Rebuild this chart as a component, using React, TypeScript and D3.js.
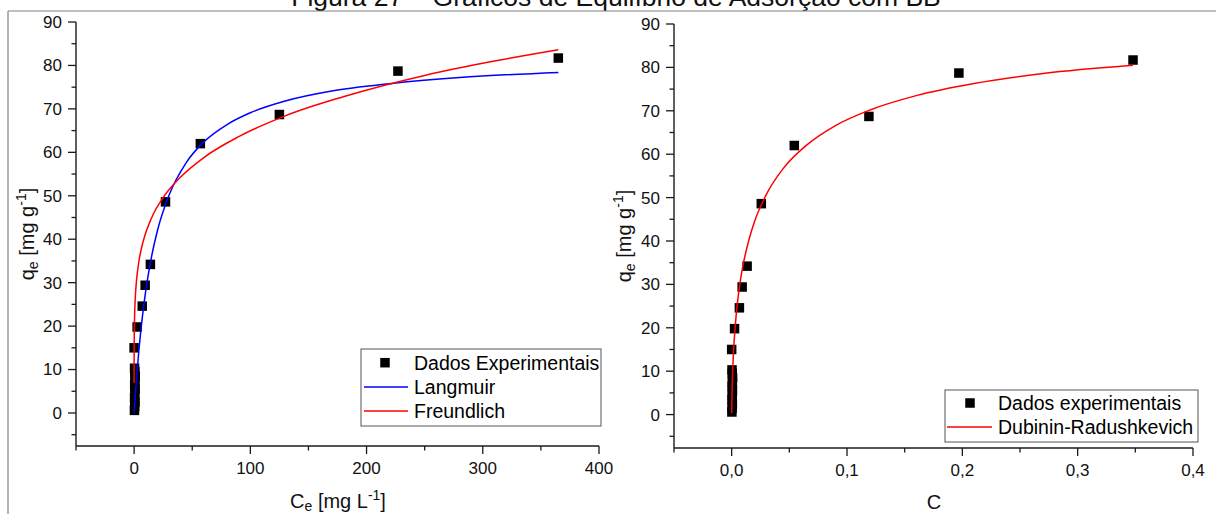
import React from "react";
import * as d3 from "d3";

// ---------- data ----------
const TITLE = "Figura 27 – Gráficos de Equilíbrio de Adsorção com BB";

const ceValues = [0.3, 0.5, 0.8, 0.4, 0.6, 0.9, 0.5, 0.7, 1.0, 0.6, 0.4, 0.0, 2.6, 7.0, 9.5, 14.0, 27.0, 57.0, 125.0, 227.0, 365.0];
const qeValues = [0.6, 1.5, 2.5, 3.5, 4.5, 5.5, 6.5, 7.5, 8.5, 9.5, 10.3, 15.0, 19.8, 24.6, 29.4, 34.2, 48.6, 62.0, 68.7, 78.7, 81.7];
const cValues = [0.0002, 0.0004, 0.0006, 0.0003, 0.0005, 0.0007, 0.0004, 0.0006, 0.0008, 0.0005, 0.0003, 0.0, 0.0025, 0.0067, 0.0091, 0.0134, 0.0257, 0.0543, 0.119, 0.197, 0.348];

// fitted curves
const langmuirCe = [0, 1, 2, 4, 7, 10, 15, 20, 30, 45, 60, 80, 100, 130, 170, 220, 280, 365];
const langmuirQ = [0, 4.05, 7.72, 14.1, 21.9, 28.1, 36.0, 41.9, 50.1, 57.7, 62.4, 66.4, 69.1, 71.8, 74.1, 75.8, 77.2, 78.4];

const freundlichCe = [0.001, 0.01, 0.05, 0.1, 0.3, 0.6, 1, 2, 4, 8, 15, 25, 40, 60, 90, 130, 180, 250, 310, 365];
const freundlichQ = [6.9, 10.8, 14.8, 16.9, 20.9, 24.0, 26.5, 30.3, 34.7, 39.7, 44.9, 49.6, 54.3, 58.8, 63.6, 68.4, 72.8, 77.7, 81.0, 83.6];

const drC = [0.00001, 0.0001, 0.0003, 0.0006, 0.001, 0.002, 0.004, 0.007, 0.01, 0.015, 0.02, 0.03, 0.045, 0.065, 0.09, 0.12, 0.16, 0.21, 0.27, 0.348];
const drQ = [0.3, 2.2, 5.0, 8.0, 11.0, 16.3, 23.2, 29.9, 34.6, 40.3, 44.6, 50.7, 56.8, 62.1, 66.6, 70.2, 73.5, 76.3, 78.6, 80.5];

const yMajor = [0, 10, 20, 30, 40, 50, 60, 70, 80, 90];
const yMinor = [-5, 5, 15, 25, 35, 45, 55, 65, 75, 85];
const leftXMajor = [0, 100, 200, 300, 400];
const leftXMinor = [-50, 50, 150, 250, 350];
const rightXMajor = [0, 0.1, 0.2, 0.3, 0.4];
const rightXMinor = [-0.05, 0.05, 0.15, 0.25, 0.35];

const FONT = "'Liberation Sans', Arial, Helvetica, sans-serif";
const AXIS_COLOR = "#1a1a1a";
const TICK_FS = 17;
const LEG_FS = 19.5;
const TITLE_FS = 20;

type Scale = d3.ScaleLinear<number, number>;

function Axes({ x, y, xMajor, xMinor, fmt }: { x: Scale; y: Scale; xMajor: number[]; xMinor: number[]; fmt: (v: number) => string }) {
  const [x0, x1] = x.range();
  const [yb, yt] = y.range();
  return (
    <g>
      <line x1={x0} x2={x0} y1={yt} y2={yb} stroke={AXIS_COLOR} strokeWidth={1.4} />
      <line x1={x0} x2={x1} y1={yb} y2={yb} stroke={AXIS_COLOR} strokeWidth={1.4} />
      {yMajor.map((v) => (
        <g key={"ym" + v}>
          <line x1={x0 - 8} x2={x0} y1={y(v)} y2={y(v)} stroke={AXIS_COLOR} strokeWidth={1.3} />
          <text x={x0 - 14} y={y(v)} dy="0.35em" textAnchor="end" fontSize={TICK_FS} fontFamily={FONT} fill="#111">
            {v}
          </text>
        </g>
      ))}
      {yMinor.map((v) => (
        <line key={"yn" + v} x1={x0 - 4.5} x2={x0} y1={y(v)} y2={y(v)} stroke={AXIS_COLOR} strokeWidth={1.3} />
      ))}
      {xMajor.map((v) => (
        <g key={"xm" + v}>
          <line x1={x(v)} x2={x(v)} y1={yb} y2={yb + 8} stroke={AXIS_COLOR} strokeWidth={1.3} />
          <text x={x(v)} y={yb + 28} textAnchor="middle" fontSize={TICK_FS} fontFamily={FONT} fill="#111">
            {fmt(v)}
          </text>
        </g>
      ))}
      {xMinor.map((v) => (
        <line key={"xn" + v} x1={x(v)} x2={x(v)} y1={yb} y2={yb + 4.5} stroke={AXIS_COLOR} strokeWidth={1.3} />
      ))}
    </g>
  );
}

function Markers({ xs, ys, x, y }: { xs: number[]; ys: number[]; x: Scale; y: Scale }) {
  const s = 9.5;
  return (
    <g>
      {xs.map((v, i) => (
        <rect key={i} x={x(v) - s / 2} y={y(ys[i]) - s / 2} width={s} height={s} fill="#000" />
      ))}
    </g>
  );
}

function Curve({ xs, ys, x, y, color }: { xs: number[]; ys: number[]; x: Scale; y: Scale; color: string }) {
  const pts = xs.map((v, i) => [v, ys[i]] as [number, number]);
  const gen = d3
    .line<[number, number]>()
    .x((d) => x(d[0]))
    .y((d) => y(d[1]))
    .curve(d3.curveMonotoneX);
  return <path d={gen(pts) || ""} fill="none" stroke={color} strokeWidth={1.5} />;
}

function YLabel({ cx, cy }: { cx: number; cy: number }) {
  return (
    <text transform={`translate(${cx},${cy}) rotate(-90)`} textAnchor="middle" fontSize={TITLE_FS} fontFamily={FONT} fill="#111">
      <tspan>q</tspan>
      <tspan fontSize={14} dy={4}>e</tspan>
      <tspan dy={-4}> [mg g</tspan>
      <tspan fontSize={14} dy={-8}>-1</tspan>
      <tspan dy={8}>]</tspan>
    </text>
  );
}

export default function App() {
  const W = 1216;
  const H = 514;

  const xL = d3.scaleLinear().domain([-50, 400]).range([76, 599]);
  const yL = d3.scaleLinear().domain([-7.6, 90]).range([446, 22]);
  const xR = d3.scaleLinear().domain([-0.05, 0.4]).range([674, 1193]);
  const yR = d3.scaleLinear().domain([-7.7, 90]).range([448, 24]);

  const fmtL = (v: number) => String(v);
  const fmtR = (v: number) => v.toFixed(1).replace(".", ",");

  return (
    <div style={{ position: "absolute", left: 0, top: 0, width: W, height: H, background: "#fff" }}>
      <svg width={W} height={H} viewBox={`0 0 ${W} ${H}`} style={{ display: "block" }}>
        <rect x={0} y={0} width={W} height={H} fill="#fff" />
        {/* page title, cut at the top as in the source */}
        <text x={616} y={6} textAnchor="middle" fontSize={26.5} fontFamily={FONT} fill="#111">
          {TITLE}
        </text>
        {/* frame */}
        <line x1={8} x2={W} y1={11} y2={11} stroke="#808080" strokeWidth={1.2} />
        <line x1={8} x2={8} y1={11} y2={H} stroke="#808080" strokeWidth={1.2} />

        {/* left chart */}
        <Axes x={xL} y={yL} xMajor={leftXMajor} xMinor={leftXMinor} fmt={fmtL} />
        <Markers xs={ceValues} ys={qeValues} x={xL} y={yL} />
        <Curve xs={langmuirCe} ys={langmuirQ} x={xL} y={yL} color="#0000ff" />
        <Curve xs={freundlichCe} ys={freundlichQ} x={xL} y={yL} color="#ff0000" />
        <YLabel cx={34} cy={234} />
        <text x={338} y={508} textAnchor="middle" fontSize={TITLE_FS} fontFamily={FONT} fill="#111">
          <tspan>C</tspan>
          <tspan fontSize={14} dy={3}>e</tspan>
          <tspan dy={-3}> [mg L</tspan>
          <tspan fontSize={14} dy={-8}>-1</tspan>
          <tspan dy={8}>]</tspan>
        </text>
        {/* left legend */}
        <rect x={361} y={349} width={240} height={77} fill="#fff" stroke="#555" strokeWidth={1} />
        <rect x={385 - 4.75} y={362.7 - 4.75} width={9.5} height={9.5} fill="#000" />
        <text x={414} y={362.7} dy="0.35em" fontSize={LEG_FS} fontFamily={FONT} fill="#000">Dados Experimentais</text>
        <line x1={364} x2={408} y1={387} y2={387} stroke="#0000ff" strokeWidth={1.5} />
        <text x={414} y={387} dy="0.35em" fontSize={LEG_FS} fontFamily={FONT} fill="#000">Langmuir</text>
        <line x1={364} x2={408} y1={411} y2={411} stroke="#ff0000" strokeWidth={1.5} />
        <text x={414} y={411} dy="0.35em" fontSize={LEG_FS} fontFamily={FONT} fill="#000">Freundlich</text>

        {/* right chart */}
        <Axes x={xR} y={yR} xMajor={rightXMajor} xMinor={rightXMinor} fmt={fmtR} />
        <Markers xs={cValues} ys={qeValues} x={xR} y={yR} />
        <Curve xs={drC} ys={drQ} x={xR} y={yR} color="#ff0000" />
        <YLabel cx={631} cy={236} />
        <text x={934} y={509} textAnchor="middle" fontSize={TITLE_FS} fontFamily={FONT} fill="#111">C</text>
        {/* right legend */}
        <rect x={945} y={390} width={253} height={52} fill="#fff" stroke="#555" strokeWidth={1} />
        <rect x={970 - 4.75} y={403 - 4.75} width={9.5} height={9.5} fill="#000" />
        <text x={998} y={403} dy="0.35em" fontSize={LEG_FS} fontFamily={FONT} fill="#000">Dados experimentais</text>
        <line x1={947} x2={992} y1={427} y2={427} stroke="#ff0000" strokeWidth={1.5} />
        <text x={998} y={427} dy="0.35em" fontSize={LEG_FS} fontFamily={FONT} fill="#000">Dubinin-Radushkevich</text>
      </svg>
    </div>
  );
}
